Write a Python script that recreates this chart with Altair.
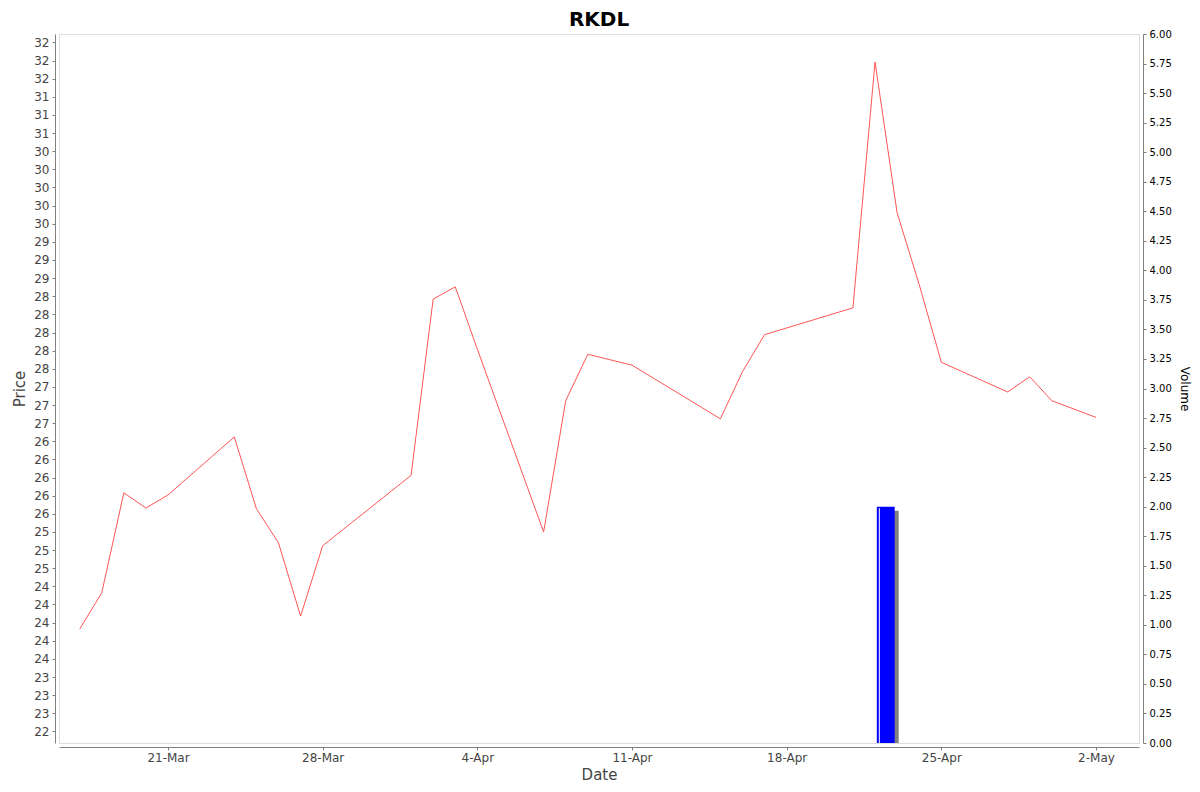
import altair as alt
import pandas as pd

# ---- data ----
dates = ["2025-03-17", "2025-03-18", "2025-03-19", "2025-03-20", "2025-03-21",
         "2025-03-24", "2025-03-25", "2025-03-26", "2025-03-27", "2025-03-28",
         "2025-04-01", "2025-04-02", "2025-04-03", "2025-04-04", "2025-04-07",
         "2025-04-08", "2025-04-09", "2025-04-11", "2025-04-15", "2025-04-16",
         "2025-04-17", "2025-04-21", "2025-04-22", "2025-04-23", "2025-04-24",
         "2025-04-25", "2025-04-28", "2025-04-29", "2025-04-30", "2025-05-02"]
prices = [23.91, 24.41, 25.79, 25.58, 25.76,
          26.56, 25.57, 25.10, 24.09, 25.06,
          26.03, 28.46, 28.63, 27.77, 25.25,
          27.06, 27.70, 27.55, 26.81, 27.46,
          27.97, 28.34, 31.73, 29.65, 28.66,
          27.59, 27.18, 27.39, 27.06, 26.83]

vol_dates = ["2025-04-22"]
volumes = [2.0]

price_ticks = [22.5, 22.75, 23.0, 23.25, 23.5, 23.75, 24.0, 24.25, 24.5, 24.75,
               25.0, 25.25, 25.5, 25.75, 26.0, 26.25, 26.5, 26.75, 27.0, 27.25,
               27.5, 27.75, 28.0, 28.25, 28.5, 28.75, 29.0, 29.25, 29.5, 29.75,
               30.0, 30.25, 30.5, 30.75, 31.0, 31.25, 31.5, 31.75, 32.0]
volume_ticks = [0.0, 0.25, 0.5, 0.75, 1.0, 1.25, 1.5, 1.75, 2.0, 2.25, 2.5, 2.75,
                3.0, 3.25, 3.5, 3.75, 4.0, 4.25, 4.5, 4.75, 5.0, 5.25, 5.5, 5.75, 6.0]
x_tick_dates = ["2025-03-21", "2025-03-28", "2025-04-04", "2025-04-11",
                "2025-04-18", "2025-04-25", "2025-05-02"]

price_df = pd.DataFrame({"date": dates, "price": prices})
vol_df = pd.DataFrame({"date": vol_dates, "volume": volumes})


def dt(s, h=0, m=0):
    t = pd.Timestamp(s)
    return alt.DateTime(year=t.year, month=t.month, date=t.day, hours=h, minutes=m, utc=True)


FONT = "DejaVu Sans"
GRAY = "#808080"
x_scale = alt.Scale(type="utc", domain=[dt("2025-03-16", 1, 34), dt("2025-05-03", 22, 44)], nice=False)
vol_scale = alt.Scale(domain=[0, 6], nice=False, zero=True)
price_scale = alt.Scale(domain=[22.34, 32.116], nice=False, zero=False)

half_even = ("(datum.value % 1 == 0.5) ? format((floor(datum.value) % 2 == 0) ? floor(datum.value) : "
             "ceil(datum.value), 'd') : format(round(datum.value), 'd')")

x_axis = alt.Axis(orient="bottom", values=[dt(d) for d in x_tick_dates], format="%-d-%b",
                  title="Date", titleFontSize=15, titleColor="#444444",
                  titleFontWeight="normal", titlePadding=4, titleFont=FONT,
                  labelFontSize=12, labelColor="#444444", labelPadding=2, labelFont=FONT,
                  offset=4, tickSize=3, domainColor=GRAY, tickColor=GRAY,
                  grid=False, labelFlush=False, labelOverlap=False)

vol_axis = alt.Axis(orient="right", values=volume_ticks, format=".2f", title="Volume",
                    titleAngle=90, titleFontSize=12, titleColor="#000000",
                    titleFontWeight="normal", titlePadding=6, titleFont=FONT,
                    labelFontSize=10, labelColor="#000000", labelPadding=3, labelFont=FONT,
                    offset=4, tickSize=3, domainColor=GRAY, tickColor=GRAY,
                    grid=False, labelOverlap=False, labelFlush=False)

price_axis = alt.Axis(orient="left", values=price_ticks, labelExpr=half_even,
                      title="Price", titleFontSize=15, titleColor="#444444",
                      titleFontWeight="normal", titlePadding=6, titleFont=FONT,
                      labelFontSize=12, labelColor="#444444", labelPadding=3, labelFont=FONT,
                      offset=4, tickSize=3, domainColor=GRAY, tickColor=GRAY,
                      grid=False, labelOverlap=False, labelFlush=False)

vol_base = alt.Chart(vol_df).transform_calculate(
    x0="time(toDate(datum.date)) + 0.08 * 86400000",
    x1="time(toDate(datum.date)) + 0.89 * 86400000",
)

shadow = vol_base.mark_bar(color=GRAY, xOffset=4, x2Offset=4, yOffset=4, y2Offset=4, clip=True).encode(
    x=alt.X("x0:T", scale=x_scale, axis=x_axis),
    x2="x1:T",
    y=alt.Y("volume:Q", scale=vol_scale, axis=vol_axis),
    y2=alt.datum(0),
)

bars = vol_base.mark_bar(color="#0000FF", clip=True).encode(
    x=alt.X("x0:T", scale=x_scale, axis=x_axis),
    x2="x1:T",
    y=alt.Y("volume:Q", scale=vol_scale, axis=vol_axis),
    y2=alt.datum(0),
)

highlight = vol_base.mark_rule(color="white", strokeWidth=1, xOffset=2.5, yOffset=1.5).encode(
    x=alt.X("x0:T", scale=x_scale, axis=x_axis),
    y=alt.Y("volume:Q", scale=vol_scale, axis=vol_axis),
    y2=alt.datum(0),
)

volume_layer = alt.layer(shadow, bars, highlight)

line = alt.Chart(price_df).mark_line(color="#FF5555", strokeWidth=1).encode(
    x=alt.X("date:T", scale=x_scale, axis=x_axis),
    y=alt.Y("price:Q", scale=price_scale, axis=price_axis),
)

chart = alt.layer(volume_layer, line).resolve_scale(y="independent").properties(
    width=1080,
    height=709,
    autosize="none",
    padding={"left": 51, "top": 26, "right": 53, "bottom": 41},
    title=alt.TitleParams("RKDL", fontSize=20, font=FONT, fontWeight="bold",
                          color="#000000", anchor="middle", offset=6, dy=7),
).configure_view(
    stroke=GRAY, strokeWidth=1, fill="white"
).configure_axis(
    labelFont=FONT, titleFont=FONT
).configure_title(
    font=FONT
).configure(background="white")

chart.save("out.html", embed_options={"renderer": "svg", "actions": False})
